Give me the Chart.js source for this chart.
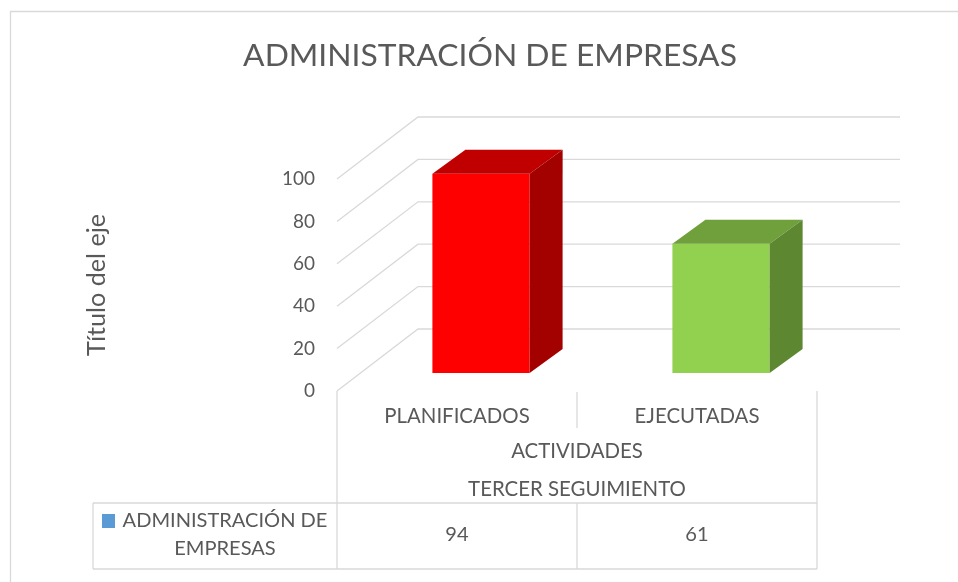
<!DOCTYPE html>
<html><head><meta charset="utf-8">
<script src="https://cdn.jsdelivr.net/npm/chart.js@4.4.1/dist/chart.umd.min.js"></script>
<style>html,body{margin:0;padding:0;background:#fff}#wrap{width:958px;height:582px;position:relative}</style>
</head><body><div id="wrap"><canvas id="c" width="958" height="582"></canvas></div>
<script>
// ---- data ----
const chartTitle = 'ADMINISTRACIÓN DE EMPRESAS';
const categories = ['PLANIFICADOS', 'EJECUTADAS'];
const groupLabels = ['ACTIVIDADES', 'TERCER SEGUIMIENTO'];
const seriesNameLines = ['ADMINISTRACIÓN DE', 'EMPRESAS'];
const seriesValues = [94, 61];
const yTicks = [0, 20, 40, 60, 80, 100];
const yAxisTitle = 'Título del eje';

// ---- styles ----
const frontColors = ['#FF0000', '#92D050'];
const topColors = ['#C00000', '#70A03B'];
const sideColors = ['#A30000', '#5E8731'];
const legendColor = '#5B9BD5';
const GRID = '#D9D9D9', TEXT = '#595959';
const FONT = 'Lato, "Open Sans", sans-serif';

const mctx = document.createElement('canvas').getContext('2d');
function fit(text, w) { mctx.font = '100px ' + FONT; return 100 * w / mctx.measureText(text).width; }
const titleSize = fit(chartTitle, 494);
const labelSize = fit('TERCER SEGUIMIENTO', 218);
const tickSize = fit('100', 33);
const yTitleSize = fit(yAxisTitle, 142);
const tableSize = fit('ADMINISTRACIÓN DE', 205);

const DEPTH = { dx: 81, dy: -62 };     // floor / side wall depth
const BAR_OFF = { dx: 24, dy: -18 };   // bar front plane offset
const BAR_DEPTH = { dx: 33, dy: -24 }; // bar depth
const BACK_RIGHT = 900;
const TABLE = { left: 93, top: 503, bottom: 569 };
const PAD_LEFT = 22;

const threeD = {
  id: 'threeD',
  beforeDraw(chart) {
    const ctx = chart.ctx;
    ctx.save();
    ctx.strokeStyle = GRID; ctx.lineWidth = 1.3;
    ctx.beginPath(); ctx.moveTo(10.5, 582); ctx.lineTo(10.5, 11.5); ctx.lineTo(958, 11.5); ctx.stroke();
    ctx.restore();
  },
  beforeDatasetsDraw(chart) {
    const { ctx, chartArea: a, scales: { x, y } } = chart;
    ctx.save();
    ctx.strokeStyle = GRID; ctx.lineWidth = 1.3;
    yTicks.forEach(v => {
      const py = y.getPixelForValue(v);
      ctx.beginPath();
      ctx.moveTo(a.left, py);
      ctx.lineTo(a.left + DEPTH.dx, py + DEPTH.dy);
      ctx.lineTo(BACK_RIGHT, py + DEPTH.dy);
      ctx.stroke();
    });
    ctx.restore();
    ctx.save();
    ctx.translate(BAR_OFF.dx, BAR_OFF.dy);
  },
  afterDatasetsDraw(chart) {
    const ctx = chart.ctx;
    ctx.restore();
    const meta = chart.getDatasetMeta(0);
    meta.data.forEach((bar, i) => {
      const p = bar.getProps(['x', 'y', 'width', 'base'], true);
      const l = p.x - p.width / 2 + BAR_OFF.dx, r = p.x + p.width / 2 + BAR_OFF.dx;
      const t = p.y + BAR_OFF.dy, b = p.base + BAR_OFF.dy;
      ctx.save();
      ctx.fillStyle = topColors[i];
      ctx.beginPath();
      ctx.moveTo(l, t); ctx.lineTo(l + BAR_DEPTH.dx, t + BAR_DEPTH.dy);
      ctx.lineTo(r + BAR_DEPTH.dx, t + BAR_DEPTH.dy); ctx.lineTo(r, t); ctx.closePath(); ctx.fill();
      ctx.fillStyle = sideColors[i];
      ctx.beginPath();
      ctx.moveTo(r, t); ctx.lineTo(r + BAR_DEPTH.dx, t + BAR_DEPTH.dy);
      ctx.lineTo(r + BAR_DEPTH.dx, b + BAR_DEPTH.dy); ctx.lineTo(r, b); ctx.closePath(); ctx.fill();
      ctx.restore();
    });
  },
  afterDraw(chart) {
    const { ctx, chartArea: a, scales: { x } } = chart;
    const centers = categories.map((c, i) => x.getPixelForValue(i));
    const mid = (centers[0] + centers[1]) / 2;
    ctx.save();
    ctx.strokeStyle = GRID; ctx.lineWidth = 1.3;
    const line = (x1, y1, x2, y2) => { ctx.beginPath(); ctx.moveTo(x1, y1); ctx.lineTo(x2, y2); ctx.stroke(); };
    // category separators
    line(a.left, a.bottom, a.left, TABLE.bottom);
    line(a.right, a.bottom, a.right, TABLE.bottom);
    line(mid, a.bottom + 1, mid, 428);
    line(mid, TABLE.top, mid, TABLE.bottom);
    // data table
    line(TABLE.left, TABLE.top, a.right, TABLE.top);
    line(TABLE.left, TABLE.bottom, a.right, TABLE.bottom);
    line(TABLE.left, TABLE.top, TABLE.left, TABLE.bottom);
    ctx.fillStyle = TEXT;
    ctx.font = tableSize + 'px ' + FONT;
    ctx.textAlign = 'center'; ctx.textBaseline = 'middle';
    seriesValues.forEach((v, i) => ctx.fillText(String(v), centers[i], 535));
    ctx.fillText(seriesNameLines[0], 225, 521);
    ctx.fillText(seriesNameLines[1], 225, 549);
    ctx.fillStyle = legendColor;
    ctx.fillRect(102, 514, 13, 14);
    ctx.restore();
  }
};

const titleLH = titleSize * 1.2;
const titlePadTop = 55.5 - titleLH / 2;

new Chart(document.getElementById('c'), {
  type: 'bar',
  data: {
    labels: categories,
    datasets: [{
      label: seriesNameLines.join(' '),
      data: seriesValues,
      backgroundColor: frontColors,
      borderWidth: 0,
      barPercentage: 0.405,
      categoryPercentage: 1,
      clip: false
    }]
  },
  options: {
    responsive: false,
    animation: false,
    devicePixelRatio: 1,
    layout: { padding: { left: PAD_LEFT, right: 0, top: 0, bottom: 74 } },
    plugins: {
      legend: { display: false },
      tooltip: { enabled: false },
      title: {
        display: true, text: chartTitle, color: TEXT,
        font: { family: FONT, size: titleSize, weight: 'normal', lineHeight: 1.2 },
        padding: { top: titlePadTop, bottom: 179 - titlePadTop - titleLH }
      }
    },
    scales: {
      x: {
        grid: { display: false, drawTicks: false },
        border: { display: false },
        ticks: { color: TEXT, font: { family: FONT, size: labelSize }, padding: 13, maxRotation: 0, autoSkip: false },
        title: {
          display: true, text: groupLabels, color: TEXT,
          font: { family: FONT, size: labelSize, lineHeight: 38 / labelSize },
          padding: 0
        },
        afterFit(s) { s.height = 117; }
      },
      y: {
        min: 0, max: 100,
        afterBuildTicks(s) { s.ticks = yTicks.map(v => ({ value: v })); },
        grid: { display: false, drawTicks: false },
        border: { display: false },
        ticks: { color: TEXT, font: { family: FONT, size: tickSize }, padding: 22 },
        title: {
          display: true, text: yAxisTitle, color: TEXT,
          font: { family: FONT, size: yTitleSize, lineHeight: 1.2 },
          padding: { top: 97 - PAD_LEFT - yTitleSize * 0.6, bottom: 0 }
        },
        afterFit(s) { s.width = 337 - PAD_LEFT; }
      },
      yRight: {
        position: 'right',
        display: true,
        grid: { display: false, drawTicks: false },
        border: { display: false },
        ticks: { display: false },
        afterFit(s) { s.width = 958 - 817; }
      }
    }
  },
  plugins: [threeD]
});
</script>
</body></html>
